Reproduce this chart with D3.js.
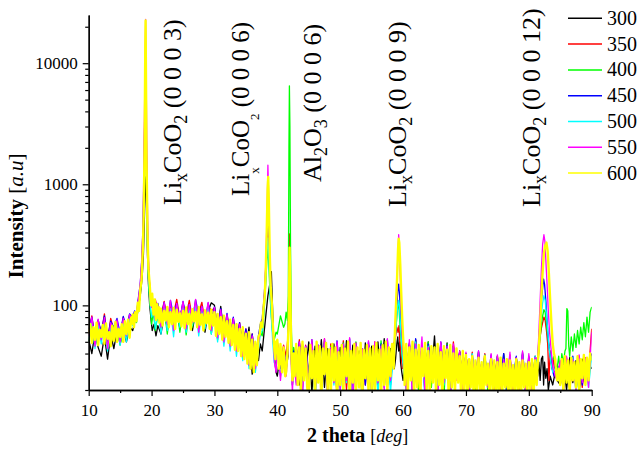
<!DOCTYPE html>
<html>
<head>
<meta charset="utf-8">
<script src="https://cdn.jsdelivr.net/npm/d3@7"></script>
<style>
  body { margin: 0; background: #fff; }
  svg text { font-family: 'Liberation Serif', 'Times New Roman', serif; fill: #000; }
</style>
</head>
<body>
<div id="canvas"></div>
<script>
// sample temperatures (legend) and their pen colours
var temps = ['300', '350', '400', '450', '500', '550', '600']
var colors = ['#000000', '#ff0000', '#00ff00', '#0000ff', '#00ffff', '#ff00ff', '#ffff00']

var xMajor = [10, 20, 30, 40, 50, 60, 70, 80, 90]
var xMinor = [15, 25, 35, 45, 55, 65, 75, 85]
var yMajor = [100, 1000, 10000]
var yMinor = [20, 30, 40, 50, 60, 70, 80, 90, 200, 300, 400, 500, 600, 700, 800, 900,
  2000, 3000, 4000, 5000, 6000, 7000, 8000, 9000, 20000]

// background scans, 2theta from 10 deg; 600 is sampled every 0.25 deg, the rest every 0.5 deg
var base300 = [
  52, 40, 60, 45, 38, 56, 36, 58, 44, 62,
  48, 64, 50, 66, 70, 80, 100, 1000, 100, 70,
  60, 65, 62, 58, 84, 66, 96, 72, 100, 64,
  92, 70, 98, 62, 88, 74, 95, 60, 90, 105,
  100, 62, 98, 56, 80, 50, 74, 45, 66, 40,
  44, 66, 27, 40, 45, 60, 90, 100, 190, 60,
  26, 42, 31, 40, 350, 40, 45, 22, 48, 27,
  50, 19, 46, 24, 52, 21, 44, 26, 48, 18,
  45, 23, 51, 20, 47, 25, 42, 17, 49, 22,
  46, 20, 50, 24, 53, 21, 44, 38, 50, 45,
  40, 22, 47, 19, 52, 24, 45, 18, 50, 26,
  56, 20, 44, 23, 49, 17, 46, 25, 42, 21,
  40, 19, 37, 23, 41, 18, 39, 20, 36, 22,
  38, 17, 40, 21, 35, 19, 37, 22, 39, 18,
  36, 20, 38, 30, 35, 38, 33, 30, 28, 24,
  22, 34, 20, 37, 23, 35, 19, 36, 24, 33,
  30]
var base350 = [
  60, 82, 52, 75, 58, 85, 50, 78, 62, 72,
  55, 80, 60, 83, 90, 95, 200, 5000, 200, 100,
  100, 95, 90, 80, 108, 74, 100, 85, 112, 78,
  104, 82, 110, 76, 98, 86, 106, 72, 100, 90,
  95, 66, 92, 60, 84, 56, 78, 50, 72, 46,
  64, 40, 58, 36, 60, 100, 400, 200, 60, 45,
  50, 33, 47, 45, 390, 45, 28, 52, 24, 47,
  26, 50, 22, 45, 29, 53, 21, 48, 25, 44,
  27, 51, 20, 46, 24, 49, 28, 43, 22, 47,
  25, 50, 21, 47, 27, 44, 23, 49, 60, 50,
  45, 24, 48, 20, 51, 26, 44, 22, 47, 28,
  43, 21, 49, 25, 45, 19, 50, 27, 41, 23,
  39, 22, 41, 19, 37, 24, 40, 20, 36, 23,
  38, 21, 35, 24, 39, 18, 36, 22, 40, 20,
  37, 23, 35, 50, 70, 75, 60, 40, 30, 26,
  34, 22, 37, 20, 35, 25, 38, 21, 36, 28,
  64]
var base400 = [
  50, 72, 46, 68, 55, 74, 48, 66, 52, 70,
  47, 69, 53, 76, 80, 90, 150, 2000, 150, 90,
  85, 80, 70, 64, 95, 58, 90, 68, 98, 60,
  92, 57, 88, 66, 96, 62, 85, 70, 94, 58,
  86, 52, 82, 55, 76, 47, 70, 43, 64, 40,
  58, 36, 54, 33, 55, 80, 300, 100, 45, 40,
  58, 82, 66, 100, 6000, 60, 26, 47, 21, 44,
  23, 48, 18, 44, 26, 51, 20, 46, 24, 42,
  21, 49, 25, 45, 17, 50, 23, 43, 27, 47,
  19, 46, 24, 51, 21, 44, 26, 48, 80, 60,
  40, 20, 46, 25, 49, 18, 43, 23, 50, 21,
  45, 24, 42, 18, 48, 22, 44, 26, 39, 20,
  37, 21, 39, 18, 35, 23, 38, 19, 34, 22,
  36, 20, 38, 17, 34, 22, 37, 19, 35, 21,
  35, 18, 37, 40, 70, 80, 60, 40, 30, 32,
  36, 48, 40, 55, 44, 60, 48, 68, 55, 80,
  98]
var base450 = [
  64, 80, 55, 76, 60, 82, 53, 74, 66, 78,
  58, 81, 63, 85, 90, 100, 200, 5000, 200, 100,
  95, 90, 85, 78, 106, 72, 110, 82, 104, 76,
  108, 80, 102, 74, 111, 84, 98, 70, 105, 78,
  97, 64, 94, 58, 86, 54, 80, 48, 72, 44,
  64, 40, 58, 36, 60, 100, 450, 150, 50, 40,
  48, 30, 45, 40, 200, 40, 27, 50, 23, 46,
  28, 52, 21, 47, 25, 49, 19, 44, 27, 51,
  24, 46, 28, 53, 20, 48, 26, 44, 22, 50,
  27, 45, 20, 48, 25, 52, 22, 46, 100, 80,
  45, 26, 49, 21, 53, 24, 46, 20, 48, 27,
  44, 22, 50, 26, 47, 20, 43, 25, 41, 22,
  40, 20, 38, 24, 42, 19, 36, 23, 39, 21,
  37, 22, 40, 19, 36, 24, 38, 20, 41, 23,
  38, 21, 36, 80, 160, 140, 80, 50, 35, 28,
  33, 23, 36, 21, 38, 25, 34, 22, 37, 26,
  40]
var base500 = [
  52, 75, 44, 70, 48, 73, 42, 68, 55, 71,
  47, 74, 50, 78, 85, 95, 200, 4000, 200, 90,
  90, 85, 80, 58, 98, 62, 94, 55, 100, 66,
  96, 60, 92, 68, 99, 56, 90, 64, 97, 58,
  88, 50, 84, 46, 76, 42, 72, 38, 64, 35,
  56, 30, 52, 28, 50, 90, 350, 120, 45, 35,
  44, 26, 40, 40, 220, 40, 23, 45, 19, 42,
  20, 46, 17, 43, 24, 48, 18, 42, 22, 47,
  19, 44, 23, 50, 16, 45, 21, 41, 25, 46,
  22, 47, 18, 44, 23, 49, 19, 43, 80, 60,
  40, 21, 45, 18, 50, 23, 42, 17, 46, 24,
  41, 19, 47, 22, 43, 17, 45, 24, 40, 20,
  38, 18, 40, 21, 35, 17, 39, 22, 36, 19,
  37, 19, 34, 22, 38, 17, 35, 21, 39, 18,
  36, 19, 38, 60, 110, 100, 60, 40, 30, 25,
  32, 20, 35, 22, 37, 19, 34, 24, 36, 21,
  38]
var base550 = [
  56, 80, 46, 77, 52, 79, 44, 72, 60, 76,
  50, 78, 56, 84, 90, 100, 300, 20000, 300, 100,
  100, 95, 90, 66, 106, 70, 110, 62, 104, 74,
  108, 64, 102, 72, 112, 60, 98, 76, 106, 62,
  96, 54, 92, 50, 84, 46, 78, 42, 70, 38,
  60, 32, 56, 30, 60, 120, 1400, 200, 50, 30,
  50, 24, 46, 40, 200, 40, 22, 50, 18, 46,
  21, 52, 18, 47, 25, 53, 17, 45, 23, 50,
  20, 48, 24, 54, 16, 49, 22, 44, 26, 51,
  18, 50, 23, 46, 20, 53, 24, 47, 200, 100,
  50, 20, 52, 17, 48, 23, 55, 18, 45, 25,
  44, 17, 50, 23, 46, 16, 48, 24, 42, 19,
  41, 17, 38, 22, 42, 18, 37, 21, 40, 17,
  39, 18, 36, 22, 41, 17, 37, 20, 42, 18,
  40, 18, 37, 100, 380, 250, 100, 50, 30, 24,
  35, 19, 38, 22, 36, 20, 39, 23, 37, 21,
  60]
var base600 = [
  58, 70, 49, 66, 52, 72, 47, 63, 55, 69, 48, 71, 53, 60, 46, 68, 51, 73, 50, 64,
  55, 70, 50, 74, 58, 76, 54, 79, 82, 90, 100, 120, 150, 400, 5000, 300, 150, 110, 95, 90,
  100, 95, 90, 85, 88, 72, 94, 68, 90, 75, 97, 66, 88, 70, 95, 64, 92, 73, 86, 67,
  90, 65, 96, 70, 85, 63, 93, 74, 88, 66, 97, 69, 84, 62, 91, 71, 87, 64, 92, 68,
  88, 56, 85, 58, 80, 52, 82, 55, 74, 49, 76, 47, 69, 43, 70, 42, 64, 38, 66, 36,
  58, 33, 60, 30, 52, 28, 50, 32, 55, 60, 80, 120, 300, 1000, 200, 90, 60, 50, 45, 40,
  52, 30, 48, 28, 45, 26, 40, 45, 200, 60, 40, 26, 48, 22, 45, 19, 50, 24, 44, 21,
  17, 47, 25, 42, 18, 50, 23, 46, 16, 44, 27, 49, 20, 43, 18, 48, 24, 45, 17, 41,
  22, 47, 19, 44, 26, 50, 17, 42, 23, 48, 18, 45, 21, 49, 16, 43, 25, 47, 19, 44,
  20, 46, 18, 49, 24, 43, 17, 47, 22, 50, 19, 45, 26, 48, 30, 60, 200, 300, 100, 50,
  45, 22, 48, 19, 45, 24, 50, 18, 43, 21, 47, 17, 44, 26, 49, 20, 42, 18, 46, 23,
  45, 19, 48, 22, 41, 17, 46, 25, 43, 18, 47, 21, 40, 19, 44, 23, 38, 17, 42, 20,
  39, 18, 36, 21, 38, 16, 35, 20, 37, 19, 34, 17, 38, 22, 33, 18, 36, 20, 35, 17,
  34, 19, 37, 18, 33, 21, 36, 16, 35, 20, 32, 18, 36, 19, 34, 17, 35, 21, 33, 18,
  34, 20, 36, 18, 35, 22, 40, 60, 150, 300, 330, 300, 150, 80, 50, 40, 35, 32, 24, 30,
  22, 36, 20, 38, 23, 35, 19, 37, 24, 34, 21, 38, 20, 36, 25, 39, 22, 37, 24, 40,
  35]

// finer [2theta, counts] readings around the reflections (they replace the background points they span)
var peaks300 = [
  [[17.0, 62], [17.3, 72], [17.6, 80], [17.9, 95], [18.2, 120], [18.5, 170], [18.7, 260], [18.85, 500], [19.0, 1000], [19.1, 1150], [19.2, 700], [19.35, 260], [19.5, 150], [19.7, 100], [19.9, 78], [20.1, 62], [20.4, 70], [20.7, 56], [21.0, 68]],
  [[37.0, 35], [37.3, 48], [37.6, 42], [37.9, 60], [38.2, 85], [38.5, 120], [38.8, 150], [39.05, 190], [39.2, 110], [39.4, 55], [39.6, 35], [39.8, 28]],
  [[41.4, 30], [41.7, 38], [41.85, 120], [41.95, 360], [42.05, 140], [42.2, 40], [42.4, 22], [42.6, 30]],
  [[58.6, 30], [58.8, 36], [59.0, 48], [59.15, 55], [59.3, 42], [59.45, 50], [59.6, 34], [59.8, 28], [60.0, 24], [60.2, 30]],
  [[81.4, 26], [81.6, 34], [81.8, 24], [82.0, 36], [82.2, 38], [82.35, 22], [82.5, 34], [82.7, 25], [82.9, 30], [83.1, 20], [83.4, 26], [83.8, 22], [84.2, 28]]
]
var peaks350 = [
  [[17.0, 72], [17.3, 85], [17.6, 80], [17.9, 110], [18.2, 140], [18.45, 220], [18.65, 400], [18.8, 1200], [18.95, 6000], [19.05, 9000], [19.15, 3000], [19.3, 600], [19.45, 260], [19.6, 170], [19.8, 125], [20.0, 108], [20.3, 96], [20.6, 112], [21.0, 88]],
  [[37.0, 54], [37.3, 66], [37.6, 72], [37.9, 110], [38.15, 170], [38.35, 300], [38.5, 430], [38.65, 320], [38.85, 160], [39.05, 95], [39.25, 62], [39.5, 40], [39.8, 46]],
  [[41.4, 38], [41.7, 55], [41.85, 150], [41.95, 390], [42.05, 180], [42.2, 50], [42.4, 28], [42.6, 44]],
  [[58.6, 42], [58.8, 55], [59.0, 66], [59.2, 60], [59.35, 68], [59.5, 48], [59.7, 38], [59.9, 30], [60.2, 36]],
  [[81.4, 30], [81.6, 42], [81.8, 55], [82.0, 65], [82.2, 72], [82.4, 80], [82.6, 75], [82.8, 62], [83.0, 48], [83.2, 24], [83.4, 42], [83.7, 30], [84.0, 36], [84.2, 26]]
]
var peaks400 = [
  [[17.0, 70], [17.3, 80], [17.6, 72], [17.9, 100], [18.2, 125], [18.45, 190], [18.65, 340], [18.8, 900], [18.95, 2500], [19.05, 3200], [19.15, 1400], [19.3, 380], [19.45, 190], [19.6, 130], [19.8, 98], [20.0, 70], [20.3, 88], [20.6, 62], [21.0, 84]],
  [[37.0, 50], [37.3, 60], [37.6, 56], [37.9, 90], [38.15, 150], [38.35, 240], [38.5, 300], [38.65, 220], [38.85, 120], [39.05, 80], [39.25, 60], [39.5, 52], [39.8, 60]],
  [[41.2, 70], [41.4, 88], [41.6, 75], [41.75, 120], [41.85, 2000], [41.92, 6500], [42.0, 3000], [42.1, 300], [42.25, 60], [42.45, 30], [42.6, 45]],
  [[58.6, 44], [58.8, 60], [59.0, 80], [59.2, 105], [59.35, 95], [59.5, 70], [59.7, 50], [59.9, 36], [60.2, 42]],
  [[81.4, 36], [81.6, 45], [81.8, 55], [82.0, 70], [82.2, 82], [82.4, 92], [82.6, 88], [82.8, 70], [83.0, 55], [83.3, 42], [83.6, 34], [84.0, 38], [84.3, 30]],
  [[84.5, 30], [84.75, 38], [85.0, 28], [85.25, 40], [85.5, 33], [85.75, 42], [85.9, 44], [86.05, 94], [86.2, 90], [86.35, 46], [86.5, 38], [86.75, 55], [87.0, 42], [87.25, 58], [87.5, 45], [87.75, 62], [88.0, 48], [88.25, 66], [88.5, 52], [88.75, 72], [89.0, 55], [89.25, 80], [89.5, 60], [89.75, 88], [90.0, 97]]
]
var peaks450 = [
  [[17.0, 80], [17.3, 90], [17.6, 85], [17.9, 115], [18.2, 150], [18.45, 240], [18.65, 450], [18.8, 1400], [18.95, 4500], [19.05, 6000], [19.15, 2200], [19.3, 500], [19.45, 230], [19.6, 160], [19.8, 120], [20.0, 100], [20.3, 110], [20.6, 92], [21.0, 104]],
  [[37.0, 56], [37.3, 70], [37.6, 78], [37.9, 115], [38.15, 200], [38.35, 380], [38.5, 520], [38.65, 380], [38.85, 170], [39.05, 100], [39.25, 65], [39.5, 42], [39.8, 36]],
  [[41.4, 32], [41.7, 50], [41.85, 110], [41.95, 190], [42.05, 110], [42.2, 40], [42.4, 26], [42.6, 42]],
  [[58.6, 46], [58.8, 66], [59.0, 95], [59.15, 130], [59.3, 150], [59.45, 120], [59.6, 80], [59.8, 52], [60.0, 38], [60.2, 30]],
  [[81.4, 34], [81.6, 52], [81.8, 75], [82.0, 110], [82.2, 140], [82.35, 165], [82.5, 150], [82.7, 110], [82.9, 75], [83.1, 52], [83.4, 38], [83.7, 30], [84.0, 26], [84.2, 34]]
]
var peaks500 = [
  [[17.0, 68], [17.3, 82], [17.6, 78], [17.9, 105], [18.2, 135], [18.45, 210], [18.65, 380], [18.8, 1100], [18.95, 3200], [19.05, 4200], [19.15, 1800], [19.3, 420], [19.45, 200], [19.6, 140], [19.8, 98], [20.0, 80], [20.3, 92], [20.6, 64], [21.0, 90]],
  [[37.0, 44], [37.3, 58], [37.6, 62], [37.9, 95], [38.15, 160], [38.35, 280], [38.5, 360], [38.65, 260], [38.85, 130], [39.05, 80], [39.25, 52], [39.5, 34], [39.8, 30]],
  [[41.4, 28], [41.7, 46], [41.85, 120], [41.95, 230], [42.05, 120], [42.2, 38], [42.4, 22], [42.6, 38]],
  [[58.6, 40], [58.8, 58], [59.0, 80], [59.15, 100], [59.3, 110], [59.45, 95], [59.6, 65], [59.8, 45], [60.0, 32], [60.2, 26]],
  [[81.4, 30], [81.6, 46], [81.8, 62], [82.0, 85], [82.2, 105], [82.4, 120], [82.6, 110], [82.8, 85], [83.0, 62], [83.2, 46], [83.5, 34], [83.8, 28], [84.2, 30]]
]
var peaks550 = [
  [[17.0, 74], [17.3, 88], [17.6, 84], [17.9, 112], [18.2, 150], [18.45, 250], [18.65, 480], [18.8, 1800], [18.95, 9000], [19.05, 23000], [19.15, 7000], [19.3, 900], [19.45, 300], [19.6, 180], [19.8, 120], [20.0, 96], [20.3, 108], [20.6, 76], [21.0, 100]],
  [[37.0, 48], [37.3, 62], [37.6, 70], [37.9, 110], [38.15, 210], [38.35, 500], [38.5, 1440], [38.6, 900], [38.75, 320], [38.95, 150], [39.15, 90], [39.35, 55], [39.55, 34], [39.8, 28]],
  [[41.4, 26], [41.7, 44], [41.85, 100], [41.95, 200], [42.05, 100], [42.2, 34], [42.4, 19], [42.6, 36]],
  [[58.6, 48], [58.8, 75], [59.0, 130], [59.15, 240], [59.3, 383], [59.4, 300], [59.55, 170], [59.7, 95], [59.85, 60], [60.0, 42], [60.2, 32]],
  [[81.4, 36], [81.6, 60], [81.8, 110], [82.0, 200], [82.2, 320], [82.4, 383], [82.55, 340], [82.7, 240], [82.9, 150], [83.1, 90], [83.3, 60], [83.6, 40], [83.9, 30], [84.2, 26]]
]
var peaks600 = [
  [[16.8, 70], [17.0, 84], [17.2, 66], [17.4, 88], [17.6, 74], [17.8, 105], [18.0, 90], [18.2, 135], [18.4, 160], [18.6, 280], [18.75, 560], [18.9, 2500], [19.0, 14000], [19.05, 22500], [19.1, 9000], [19.2, 1600], [19.35, 420], [19.5, 200], [19.7, 150], [19.9, 100], [20.1, 125], [20.3, 84], [20.5, 112], [20.7, 76], [20.9, 102], [21.1, 78], [21.2, 96]],
  [[37.2, 58], [37.4, 72], [37.6, 66], [37.8, 95], [38.0, 120], [38.15, 190], [38.3, 380], [38.45, 900], [38.55, 1150], [38.65, 700], [38.8, 260], [38.95, 140], [39.1, 110], [39.25, 75], [39.4, 55], [39.55, 42], [39.7, 36], [39.8, 50]],
  [[41.4, 28], [41.6, 40], [41.8, 70], [41.9, 180], [41.95, 300], [42.05, 150], [42.2, 45], [42.4, 24], [42.6, 40]],
  [[58.6, 45], [58.75, 70], [58.9, 110], [59.05, 170], [59.2, 290], [59.3, 355], [59.4, 330], [59.55, 220], [59.7, 130], [59.85, 80], [60.0, 55], [60.2, 35]],
  [[81.4, 32], [81.6, 45], [81.8, 70], [82.0, 120], [82.2, 190], [82.4, 270], [82.6, 310], [82.8, 330], [83.0, 280], [83.2, 180], [83.4, 110], [83.6, 70], [83.8, 48], [84.0, 40], [84.2, 36]]
]

var bases = [base300, base350, base400, base450, base500, base550, base600]
var steps = [0.5, 0.5, 0.5, 0.5, 0.5, 0.5, 0.25]
var peaks = [peaks300, peaks350, peaks400, peaks450, peaks500, peaks550, peaks600]

// reflection labels: pieces of text, subscripts flagged with 1
var labels = [
  {x: 181, y: 205, size: 26, sub: 18, shift: 6, parts: [['Li'], ['x', 1], ['CoO'], ['2', 1], [' (0 0 0 3)']]},
  {x: 249, y: 196, size: 25, sub: 13, shift: 10, parts: [['Li'], ['x', 1], ['CoO'], ['2', 1], [' (0 0 0 6)']]},
  {x: 321, y: 182, size: 26, sub: 18, shift: 6, parts: [['Al'], ['2', 1], ['O'], ['3', 1], [' (0 0 0 6)']]},
  {x: 406, y: 207, size: 26, sub: 18, shift: 6, parts: [['Li'], ['x', 1], ['CoO'], ['2', 1], [' (0 0 0 9)']]},
  {x: 540, y: 207, size: 26, sub: 18, shift: 6, parts: [['Li'], ['x', 1], ['CoO'], ['2', 1], [' (0 0 0 12)']]}
]

var W = 643, H = 449
var plotL = 88.7, plotR = 591.7, plotT = 15, plotB = 390

var x = d3.scaleLinear().domain([10, 90]).range([plotL, plotR])
var y = d3.scaleLog().domain([20, 25000]).range([plotB, plotT])

var buildSeries = function (base, step, groups) {
  var pts = base.map(function (v, i) { return [10 + i * step, v] })
    .filter(function (p) {
      return !groups.some(function (g) { return p[0] >= g[0][0] && p[0] <= g[g.length - 1][0] })
    })
  groups.forEach(function (g) { pts = pts.concat(g) })
  pts.sort(function (a, b) { return a[0] - b[0] })
  return pts
}

var svg = d3.select('#canvas').append('svg')
  .attr('width', W)
  .attr('height', H)

svg.append('defs').append('clipPath').attr('id', 'plot')
  .append('rect')
  .attr('x', plotL).attr('y', plotT)
  .attr('width', plotR - plotL).attr('height', plotB - plotT)

var line = d3.line()
  .x(function (d) { return x(d[0]) })
  .y(function (d) { return y(d[1]) })

// the 600 scan is drawn last with a heavier pen, as in the original it covers the band
var curves = svg.append('g').attr('clip-path', 'url(#plot)')
temps.forEach(function (t, i) {
  curves.append('path')
    .datum(buildSeries(bases[i], steps[i], peaks[i]))
    .attr('fill', 'none')
    .attr('stroke', colors[i])
    .attr('stroke-width', i === 6 ? 2.4 : 1.3)
    .attr('stroke-linejoin', 'round')
    .attr('d', line)
})

// axes
var styleAxis = function (g) {
  g.attr('font-size', 17).attr('font-family', 'Liberation Serif')
  g.select('.domain').attr('stroke', '#000').attr('stroke-width', 1.3)
  g.selectAll('.tick line').attr('stroke', '#000').attr('stroke-width', 1.2)
  g.selectAll('.tick text').attr('fill', '#000')
}

svg.append('g').attr('transform', 'translate(0,' + plotB + ')')
  .call(d3.axisBottom(x).tickValues(xMinor).tickSize(3).tickFormat('').tickSizeOuter(0))
  .call(styleAxis)
svg.append('g').attr('transform', 'translate(0,' + plotB + ')')
  .call(d3.axisBottom(x).tickValues(xMajor).tickSize(6).tickPadding(8).tickSizeOuter(0))
  .call(styleAxis)

svg.append('g').attr('transform', 'translate(' + plotL + ',0)')
  .call(d3.axisLeft(y).tickValues(yMinor).tickSize(3.5).tickFormat('').tickSizeOuter(0))
  .call(styleAxis)
svg.append('g').attr('transform', 'translate(' + plotL + ',0)')
  .call(d3.axisLeft(y).tickValues(yMajor).tickSize(6).tickPadding(5).tickFormat(d3.format('d')).tickSizeOuter(0))
  .call(styleAxis)

// axis titles
var yt = svg.append('text')
  .attr('transform', 'translate(23,216) rotate(-90)')
  .attr('text-anchor', 'middle')
  .attr('font-size', 21)
yt.append('tspan').attr('font-weight', 'bold').text('Intensity ')
yt.append('tspan').text('[')
yt.append('tspan').attr('font-style', 'italic').text('a.u')
yt.append('tspan').text(']')

var xt = svg.append('text')
  .attr('x', 307)
  .attr('y', 442)
  .attr('font-size', 20)
xt.append('tspan').attr('font-weight', 'bold').text('2 theta ')
xt.append('tspan').attr('font-size', 18).text('[')
xt.append('tspan').attr('font-size', 18).attr('font-style', 'italic').text('deg')
xt.append('tspan').attr('font-size', 18).text(']')

// reflection labels, written upward
labels.forEach(function (l) {
  var t = svg.append('text')
    .attr('transform', 'translate(' + l.x + ',' + l.y + ') rotate(-90)')
    .attr('font-size', l.size)
  var down = false
  l.parts.forEach(function (p) {
    var s = t.append('tspan').text(p[0])
    if (p[1]) {
      s.attr('font-size', l.sub).attr('dy', l.shift)
      down = true
    } else if (down) {
      s.attr('dy', -l.shift)
      down = false
    }
  })
})

// legend
var legend = svg.append('g')
temps.forEach(function (t, i) {
  var ly = 18.3 + i * 25.8
  legend.append('line')
    .attr('x1', 568).attr('x2', 602)
    .attr('y1', ly).attr('y2', ly)
    .attr('stroke', colors[i])
    .attr('stroke-width', 1.5)
  legend.append('text')
    .attr('x', 607)
    .attr('y', ly + 6.5)
    .attr('font-size', 20)
    .text(t)
})
</script>
</body>
</html>
